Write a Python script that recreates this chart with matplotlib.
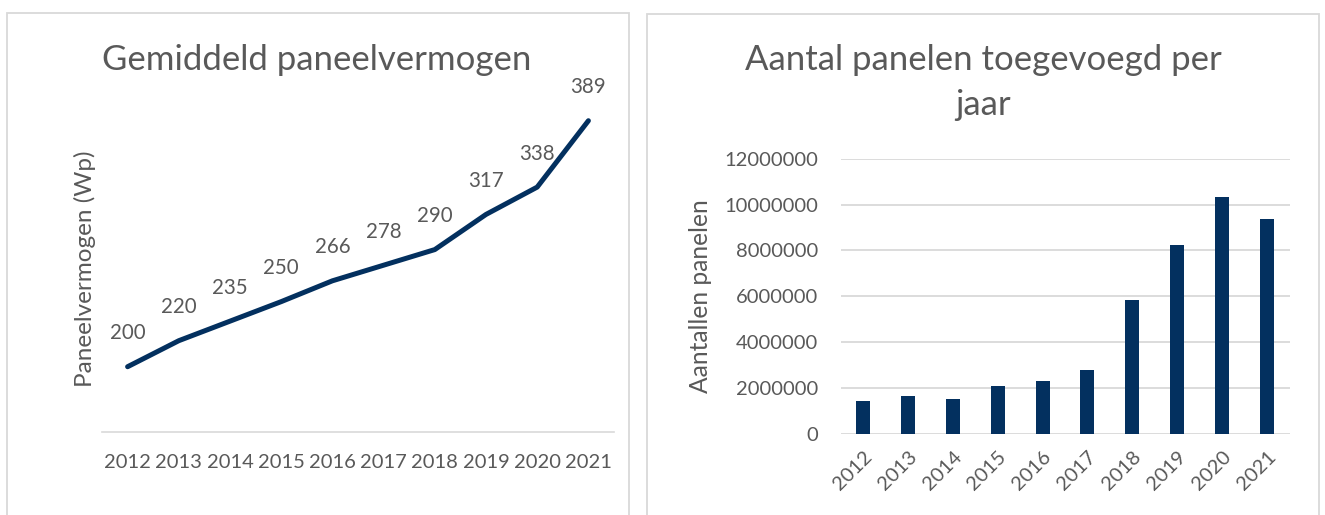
import matplotlib
matplotlib.use("Agg")
import matplotlib.pyplot as plt
from matplotlib.patches import Rectangle

years = ["2012", "2013", "2014", "2015", "2016", "2017", "2018", "2019", "2020", "2021"]
vermogen = [200, 220, 235, 250, 266, 278, 290, 317, 338, 389]
panelen = [1410000, 1640000, 1510000, 2070000, 2280000, 2780000, 5850000, 8220000, 10310000, 9350000]
y_ticks_right = [0, 2000000, 4000000, 6000000, 8000000, 10000000, 12000000]

W, H = 1325, 515
FONT = "Lato"
TXT = "#595959"
NAVY = "#03305f"
GRID = "#d9d9d9"
plt.rcParams['font.family'] = [FONT, 'DejaVu Sans']

fig = plt.figure(figsize=(W / 100, H / 100), dpi=100)
fig.patch.set_facecolor("white")


def px_axes(x0, y0, x1, y1):
    return fig.add_axes([x0 / W, 1 - y1 / H, (x1 - x0) / W, (y1 - y0) / H])


def ftext(x, y, s, **kw):
    fig.text(x / W, 1 - y / H, s, **kw)


# panel borders
for (x0, y0, x1) in [(7, 13, 629), (647, 14, 1319)]:
    fig.add_artist(Rectangle((x0 / W, -0.1), (x1 - x0) / W, 1 - y0 / H + 0.1,
                             transform=fig.transFigure, fill=False,
                             edgecolor=GRID, linewidth=1.3))

# ---------- left chart ----------
ax1 = px_axes(102, 106.4, 614, 431.8)
xs = list(range(len(years)))
ax1.plot(xs, vermogen, color=NAVY, lw=3.6, solid_capstyle="round", solid_joinstyle="round")
ax1.set_xlim(-0.5, len(years) - 0.5)
ax1.set_ylim(150, 400)
for s in ["top", "right", "left"]:
    ax1.spines[s].set_visible(False)
ax1.spines["bottom"].set_color(GRID)
ax1.spines["bottom"].set_linewidth(1.2)
ax1.set_yticks([])
ax1.set_xticks(xs)
ax1.set_xticklabels(years, fontsize=14.5, color=TXT)
ax1.tick_params(axis="x", length=0, pad=16)
for x, v in zip(xs, vermogen):
    ax1.annotate(str(v), (x, v), xytext=(0, 24), textcoords="offset points",
                 ha="center", va="center", fontsize=14.8, color=TXT, annotation_clip=False)
ax1.set_ylabel("Paneelvermogen (Wp)", fontsize=17.5, color=TXT, va="center")
ax1.yaxis.set_label_coords((85 - 102) / 512, 0.5)
ftext(317, 70, "Gemiddeld paneelvermogen", ha="center", va="baseline", fontsize=25, color=TXT)

# ---------- right chart ----------
ax2 = px_axes(840.5, 158.7, 1289.5, 433.7)
ax2.bar(xs, panelen, width=0.31, color=NAVY, zorder=3)
ax2.set_xlim(-0.5, len(years) - 0.5)
ax2.set_ylim(0, 12000000)
for s in ["top", "right", "left", "bottom"]:
    ax2.spines[s].set_visible(False)
ax2.set_yticks(y_ticks_right)
ax2.set_yticklabels([str(t) for t in y_ticks_right], fontsize=14.5, color=TXT)
ax2.yaxis.grid(True, color=GRID, lw=1.3, zorder=0)
ax2.tick_params(axis="y", length=0, pad=16)
ax2.set_xticks(xs)
ax2.set_xticklabels(years, fontsize=14.5, color=TXT, rotation=45, ha="right",
                    rotation_mode="anchor")
ax2.tick_params(axis="x", length=0, pad=10)
ax2.set_ylabel("Aantallen panelen", fontsize=17.7, color=TXT, va="center")
ax2.yaxis.set_label_coords((700 - 840.5) / 449, 0.5)
ftext(983, 70, "Aantal panelen toegevoegd per", ha="center", va="baseline", fontsize=25, color=TXT)
ftext(983, 115, "jaar", ha="center", va="baseline", fontsize=25, color=TXT)

fig.savefig("out.png", dpi=100, facecolor="white")
